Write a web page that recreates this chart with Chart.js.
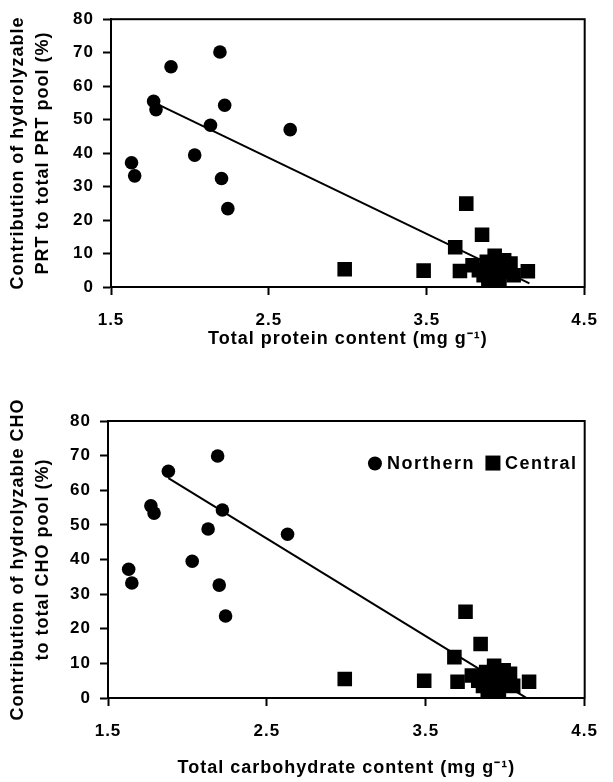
<!DOCTYPE html>
<html>
<head>
<meta charset="utf-8">
<script src="https://cdn.jsdelivr.net/npm/chart.js@4.4.0/dist/chart.umd.min.js"></script>
<style>
    body { margin: 0; background: #fff; }
    .panel { position: absolute; left: 0; width: 613px; }
    #topPanel { top: 0; height: 370px; }
    #bottomPanel { top: 370px; height: 412px; }
</style>
</head>
<body>
<div class="panel" id="topPanel"><canvas id="proteinChart" width="613" height="370"></canvas></div>
<div class="panel" id="bottomPanel"><canvas id="carbChart" width="613" height="412"></canvas></div>
<script>
// tick labels shared by both panels
const xTicks = [1.5, 2.5, 3.5, 4.5];
const yTicks = [0, 10, 20, 30, 40, 50, 60, 70, 80];

// upper panel: protein
const protNorthX = [1.63, 1.65, 1.77, 1.785, 1.88, 2.03, 2.13, 2.19, 2.22, 2.20, 2.24, 2.635];
const protNorthY = [37.1, 33.2, 55.5, 53.0, 65.8, 39.4, 48.3, 70.2, 54.3, 32.4, 23.4, 47.0];
const protCentralX = [2.98, 3.48, 3.68, 3.71, 3.75, 3.85, 4.14,
    3.79, 3.83, 3.86, 3.88, 3.89, 3.91, 3.93, 3.94, 3.96, 3.97, 3.99, 4.01, 4.03, 4.05, 3.92];
const protCentralY = [5.3, 4.9, 11.9, 4.8, 24.9, 15.6, 4.7,
    6.5, 5.0, 3.5, 7.5, 2.0, 5.5, 9.3, 3.0, 0.8, 6.5, 8.0, 4.5, 7.0, 3.5, 1.5];
const protFitX = [1.80, 4.15];
const protFitY = [54.5, 1.1];

// lower panel: carbohydrate
const choNorthX = [1.63, 1.65, 1.77, 1.79, 1.88, 2.03, 2.13, 2.19, 2.22, 2.20, 2.24, 2.63];
const choNorthY = [37.2, 33.2, 55.5, 53.4, 65.5, 39.5, 48.8, 69.9, 54.3, 32.6, 23.7, 47.3];
const choCentralX = [2.99, 3.49, 3.68, 3.70, 3.75, 3.845, 4.15,
    3.79, 3.83, 3.86, 3.88, 3.89, 3.91, 3.93, 3.94, 3.96, 3.97, 3.99, 4.01, 4.03, 4.05, 3.92];
const choCentralY = [5.5, 5.0, 11.8, 4.7, 24.9, 15.6, 4.7,
    6.5, 5.0, 3.5, 7.5, 2.0, 5.5, 9.3, 3.0, 0.8, 6.5, 8.0, 4.5, 7.0, 3.5, 1.5];
const choFitX = [1.88, 4.13];
const choFitY = [63.5, 0.1];

const FONT = "'Liberation Sans', Arial, sans-serif";

function toPoints(xs, ys) {
    return xs.map((x, i) => ({ x: x, y: ys[i] }));
}

// box around the plot area + wider letter spacing like the original figure
const framePlugin = {
    id: 'frame',
    beforeUpdate(chart) { chart.ctx.letterSpacing = '1px'; },
    beforeDraw(chart) { chart.ctx.letterSpacing = '1px'; },
    afterDraw(chart) {
        const { ctx, chartArea: a } = chart;
        ctx.save();
        ctx.strokeStyle = '#000';
        ctx.lineWidth = 2;
        ctx.strokeRect(a.left, a.top, a.right - a.left, a.bottom - a.top);
        ctx.restore();
    }
};

// legend drawn inside the plot area (only used on the lower panel)
const insideLegend = {
    id: 'insideLegend',
    afterDraw(chart, args, opts) {
        if (!opts.show) return;
        const ctx = chart.ctx;
        let x = chart.scales.x.getPixelForValue(opts.x);
        const y = chart.scales.y.getPixelForValue(opts.y);
        ctx.save();
        ctx.letterSpacing = '1.5px';
        ctx.font = 'bold 18px ' + FONT;
        ctx.textBaseline = 'middle';
        ctx.fillStyle = '#000';
        chart.data.datasets.forEach(ds => {
            if (ds.type === 'line') return;
            if (ds.pointStyle === 'rect') {
                ctx.fillRect(x - 7.5, y - 7, 15, 15);
            } else {
                ctx.beginPath();
                ctx.arc(x, y + 1, 7, 0, Math.PI * 2);
                ctx.fill();
            }
            ctx.fillText(ds.label, x + 12, y + 1);
            x += 12 + ctx.measureText(ds.label).width + 18;
        });
        ctx.restore();
    }
};

function makeChart(canvasId, cfg) {
    const ctx = document.getElementById(canvasId).getContext('2d');
    return new Chart(ctx, {
        type: 'scatter',
        data: {
            datasets: [
                {
                    type: 'line',
                    label: 'fit',
                    data: toPoints(cfg.fitX, cfg.fitY),
                    borderColor: '#000',
                    borderWidth: 2,
                    pointRadius: 0,
                    fill: false
                },
                {
                    label: 'Northern',
                    data: toPoints(cfg.northX, cfg.northY),
                    pointStyle: 'circle',
                    pointRadius: 6.8,
                    backgroundColor: '#000',
                    borderColor: '#000',
                    borderWidth: 0
                },
                {
                    label: 'Central',
                    data: toPoints(cfg.centralX, cfg.centralY),
                    pointStyle: 'rect',
                    pointRadius: 10.3,
                    backgroundColor: '#000',
                    borderColor: '#000',
                    borderWidth: 0
                }
            ]
        },
        options: {
            responsive: false,
            animation: false,
            layout: { padding: cfg.padding },
            plugins: {
                legend: { display: false },
                tooltip: { enabled: false },
                insideLegend: cfg.legend
            },
            scales: {
                x: {
                    type: 'linear',
                    min: 1.5,
                    max: 4.5,
                    afterBuildTicks: s => { s.ticks = xTicks.map(v => ({ value: v })); },
                    afterFit: s => { s.height = cfg.xHeight; },
                    grid: { drawOnChartArea: false, tickLength: 8, tickColor: '#000', tickWidth: 2 },
                    border: { color: '#000', width: 2 },
                    ticks: {
                        color: '#000',
                        padding: cfg.xTickPad,
                        maxRotation: 0,
                        font: { family: FONT, size: 17, weight: 'bold' },
                        callback: v => v.toFixed(1)
                    },
                    title: {
                        display: true,
                        text: cfg.xTitle,
                        color: '#000',
                        font: { family: FONT, size: 18, weight: 'bold' },
                        padding: { top: 0, bottom: cfg.xTitlePad }
                    }
                },
                y: {
                    min: 0,
                    max: 80,
                    afterBuildTicks: s => { s.ticks = yTicks.map(v => ({ value: v })); },
                    afterFit: s => { s.width = cfg.yWidth; },
                    grid: { drawOnChartArea: false, tickLength: 8, tickColor: '#000', tickWidth: 2 },
                    border: { color: '#000', width: 2 },
                    ticks: {
                        color: '#000',
                        padding: 9,
                        font: { family: FONT, size: 17, weight: 'bold' }
                    },
                    title: {
                        display: true,
                        text: cfg.yTitle,
                        color: '#000',
                        font: { family: FONT, size: 18, weight: 'bold', lineHeight: 1.4 },
                        padding: { top: 5, bottom: 0 }
                    }
                }
            }
        },
        plugins: [framePlugin, insideLegend]
    });
}

makeChart('proteinChart', {
    northX: protNorthX, northY: protNorthY,
    centralX: protCentralX, centralY: protCentralY,
    fitX: protFitX, fitY: protFitY,
    xTitle: 'Total protein content (mg g\u207B\u00B9)',
    yTitle: ['Contribution of hydrolyzable', 'PRT to total PRT pool (%)'],
    padding: { top: 15, right: 15, bottom: 0, left: 0 },
    xHeight: 83, yWidth: 111, xTickPad: 15, xTitlePad: 20,
    legend: { show: false }
});

makeChart('carbChart', {
    northX: choNorthX, northY: choNorthY,
    centralX: choCentralX, centralY: choCentralY,
    fitX: choFitX, fitY: choFitY,
    xTitle: 'Total carbohydrate content (mg g\u207B\u00B9)',
    yTitle: ['Contribution of hydrolyzable CHO', 'to total CHO pool (%)'],
    padding: { top: 51, right: 16, bottom: 0, left: 0 },
    xHeight: 84, yWidth: 108, xTickPad: 15, xTitlePad: 3,
    legend: { show: true, x: 3.18, y: 68 }
});
</script>
</body>
</html>
